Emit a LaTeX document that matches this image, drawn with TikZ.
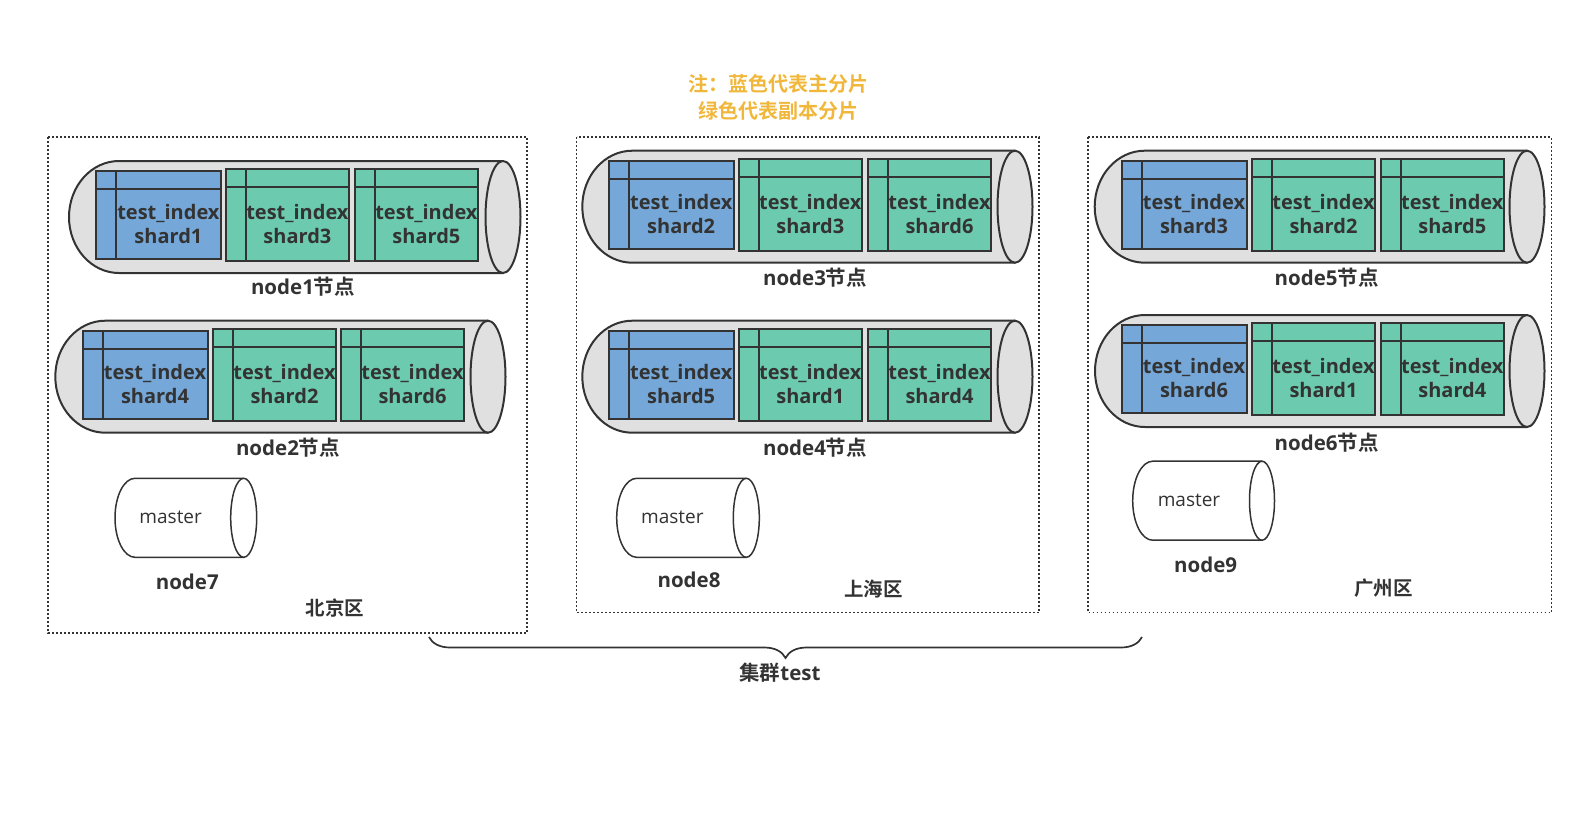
\documentclass[tikz,border=0pt]{standalone}
\usepackage{fontspec}
\setmainfont{Open Sans}
\newfontfamily\cjk{Noto Sans CJK SC}[BoldFont={Noto Sans CJK SC Bold}]
\usetikzlibrary{decorations.pathreplacing}
\definecolor{ink}{HTML}{333333}
\definecolor{primary}{HTML}{75A8D8}
\definecolor{replica}{HTML}{6CCBAF}
\definecolor{drumgray}{HTML}{E0E0E0}
\definecolor{notegold}{HTML}{F0B73A}

\begin{document}
\begin{tikzpicture}[x=1pt, y=-1pt,
    zone/.style={ink, line width=1.7pt, dash pattern=on 1.7pt off 2.3pt},
    drum/.style={draw=ink, line width=2pt, fill=drumgray},
    masterdrum/.style={draw=ink, line width=1.5pt, fill=white},
    shard/.style={rectangle, draw=ink, line width=2pt, inner sep=0pt,
        minimum width=123pt, minimum height=92pt,
        path picture={
            \draw[ink, line width=2pt] ([xshift=20pt]path picture bounding box.north west) -- ([xshift=20pt]path picture bounding box.south west);
            \draw[ink, line width=2pt] ([yshift=-18pt]path picture bounding box.north west) -- ([yshift=-18pt]path picture bounding box.north east);
        }},
    pshard/.style={shard, fill=primary, minimum width=125pt, minimum height=88pt},
    rshard/.style={shard, fill=replica},
    shardtext/.style={inner sep=0pt, align=center, text=ink, font=\bfseries\fontsize{20}{24}\selectfont},
    lbl/.style={inner sep=0pt, text=ink, font=\bfseries\fontsize{20.5}{23}\selectfont},
    zonelbl/.style={inner sep=0pt, text=ink, font=\cjk\bfseries\fontsize{19.5}{23}\selectfont},
    mastertext/.style={inner sep=0pt, text=ink, font=\fontsize{19}{23}\selectfont},
    brace/.style={draw=ink, line width=1.7pt, decorate, decoration={brace, amplitude=21pt}}
]
\useasboundingbox (0,0) rectangle (1584,817);

% note
\node[inner sep=0pt, align=center, text=notegold, font=\cjk\bfseries\fontsize{20}{27}\selectfont] (note) at (778,97) {注：蓝色代表主分片\\绿色代表副本分片};

% zones
\draw[zone] (48,137) rectangle (527,633);
\draw[zone] (576.5,137) rectangle (1039,612.5);
\draw[zone] (1088,137) rectangle (1551.5,612.5);

% node1
\draw[drum] (503,161) -- (119,161) arc[start angle=90, end angle=270, x radius=50pt, y radius=56pt] -- (503,273);
\draw[drum] (503,217) ellipse [x radius=17.5pt, y radius=56pt];
\node[pshard] (s11) at (158.4,214.9) {};
\node[rshard] (s12) at (287.4,214.9) {};
\node[rshard] (s13) at (416.4,214.9) {};
\node[shardtext] (t11) at ([xshift=10pt,yshift=-9pt]s11.center) {test\_index\\shard1};
\node[shardtext] (t12) at ([xshift=10pt,yshift=-9pt]s12.center) {test\_index\\shard3};
\node[shardtext] (t13) at ([xshift=10pt,yshift=-9pt]s13.center) {test\_index\\shard5};
\node[lbl] (n1) at (303,287) {node1{\cjk 节点}};

% node2
\draw[drum] (488,320.7) -- (105.3,320.7) arc[start angle=90, end angle=270, x radius=50pt, y radius=56pt] -- (488,432.7);
\draw[drum] (488,376.7) ellipse [x radius=17.5pt, y radius=56pt];
\node[pshard] (s21) at (145,375.3) {};
\node[rshard] (s22) at (274.5,375.3) {};
\node[rshard] (s23) at (402.5,375.3) {};
\node[shardtext] (t21) at ([xshift=10pt,yshift=-9pt]s21.center) {test\_index\\shard4};
\node[shardtext] (t22) at ([xshift=10pt,yshift=-9pt]s22.center) {test\_index\\shard2};
\node[shardtext] (t23) at ([xshift=10pt,yshift=-9pt]s23.center) {test\_index\\shard6};
\node[lbl] (n2) at (288,448) {node2{\cjk 节点}};

% node3
\draw[drum] (1015,150.7) -- (632.3,150.7) arc[start angle=90, end angle=270, x radius=50pt, y radius=56pt] -- (1015,262.7);
\draw[drum] (1015,206.7) ellipse [x radius=17.5pt, y radius=56pt];
\node[pshard] (s31) at (671.2,204.9) {};
\node[rshard] (s32) at (800.3,205) {};
\node[rshard] (s33) at (929.5,205) {};
\node[shardtext] (t31) at ([xshift=10pt,yshift=-9pt]s31.center) {test\_index\\shard2};
\node[shardtext] (t32) at ([xshift=10pt,yshift=-9pt]s32.center) {test\_index\\shard3};
\node[shardtext] (t33) at ([xshift=10pt,yshift=-9pt]s33.center) {test\_index\\shard6};
\node[lbl] (n3) at (815,277.7) {node3{\cjk 节点}};

% node4
\draw[drum] (1015,320.7) -- (632.3,320.7) arc[start angle=90, end angle=270, x radius=50pt, y radius=56pt] -- (1015,432.7);
\draw[drum] (1015,376.7) ellipse [x radius=17.5pt, y radius=56pt];
\node[pshard] (s41) at (671.2,375.2) {};
\node[rshard] (s42) at (800.3,375.3) {};
\node[rshard] (s43) at (929.5,375.3) {};
\node[shardtext] (t41) at ([xshift=10pt,yshift=-9pt]s41.center) {test\_index\\shard5};
\node[shardtext] (t42) at ([xshift=10pt,yshift=-9pt]s42.center) {test\_index\\shard1};
\node[shardtext] (t43) at ([xshift=10pt,yshift=-9pt]s43.center) {test\_index\\shard4};
\node[lbl] (n4) at (815,448) {node4{\cjk 节点}};

% node5
\draw[drum] (1527,150.7) -- (1144.7,150.7) arc[start angle=90, end angle=270, x radius=50pt, y radius=56pt] -- (1527,262.7);
\draw[drum] (1527,206.7) ellipse [x radius=17.5pt, y radius=56pt];
\node[pshard] (s51) at (1184,204.9) {};
\node[rshard] (s52) at (1313.5,205) {};
\node[rshard] (s53) at (1442.3,205) {};
\node[shardtext] (t51) at ([xshift=10pt,yshift=-9pt]s51.center) {test\_index\\shard3};
\node[shardtext] (t52) at ([xshift=10pt,yshift=-9pt]s52.center) {test\_index\\shard2};
\node[shardtext] (t53) at ([xshift=10pt,yshift=-9pt]s53.center) {test\_index\\shard5};
\node[lbl] (n5) at (1326.7,277.7) {node5{\cjk 节点}};

% node6
\draw[drum] (1527,315) -- (1145,315) arc[start angle=90, end angle=270, x radius=50pt, y radius=56pt] -- (1527,427);
\draw[drum] (1527,371) ellipse [x radius=17.5pt, y radius=56pt];
\node[pshard] (s61) at (1184,369.2) {};
\node[rshard] (s62) at (1313.5,369.3) {};
\node[rshard] (s63) at (1442.3,369.3) {};
\node[shardtext] (t61) at ([xshift=10pt,yshift=-9pt]s61.center) {test\_index\\shard6};
\node[shardtext] (t62) at ([xshift=10pt,yshift=-9pt]s62.center) {test\_index\\shard1};
\node[shardtext] (t63) at ([xshift=10pt,yshift=-9pt]s63.center) {test\_index\\shard4};
\node[lbl] (n6) at (1326.7,442.7) {node6{\cjk 节点}};

% masters
\draw[masterdrum] (243.7,478.3) -- (135,478.3) arc[start angle=90, end angle=270, x radius=20pt, y radius=39.5pt] -- (243.7,557.3);
\draw[masterdrum] (243.7,517.8) ellipse [x radius=13pt, y radius=39.5pt];
\node[mastertext] (m7) at (170.7,517) {master};
\node[lbl] (n7) at (187.3,581.7) {node7};

\draw[masterdrum] (746.3,478.3) -- (636.7,478.3) arc[start angle=90, end angle=270, x radius=20pt, y radius=39.5pt] -- (746.3,557.3);
\draw[masterdrum] (746.3,517.8) ellipse [x radius=13pt, y radius=39.5pt];
\node[mastertext] (m8) at (672.3,517) {master};
\node[lbl] (n8) at (689,580) {node8};

\draw[masterdrum] (1262,461.2) -- (1152.7,461.2) arc[start angle=90, end angle=270, x radius=20pt, y radius=39.5pt] -- (1262,540.2);
\draw[masterdrum] (1262,500.7) ellipse [x radius=12.5pt, y radius=39.5pt];
\node[mastertext] (m9) at (1189,500.5) {master};
\node[lbl] (n9) at (1205.7,565) {node9};

% zone names
\node[zonelbl] (bj) at (335,607.7) {北京区};
\node[zonelbl] (sh) at (873.3,589.3) {上海区};
\node[zonelbl] (gz) at (1383.3,588.3) {广州区};

% cluster brace
\coordinate (bl) at (429,637);
\coordinate (br) at (1142,637);
\draw[brace] (br) -- (bl);
\node[lbl] (cluster) at (780,673) {{\cjk 集群}test};

\end{tikzpicture}
\end{document}
